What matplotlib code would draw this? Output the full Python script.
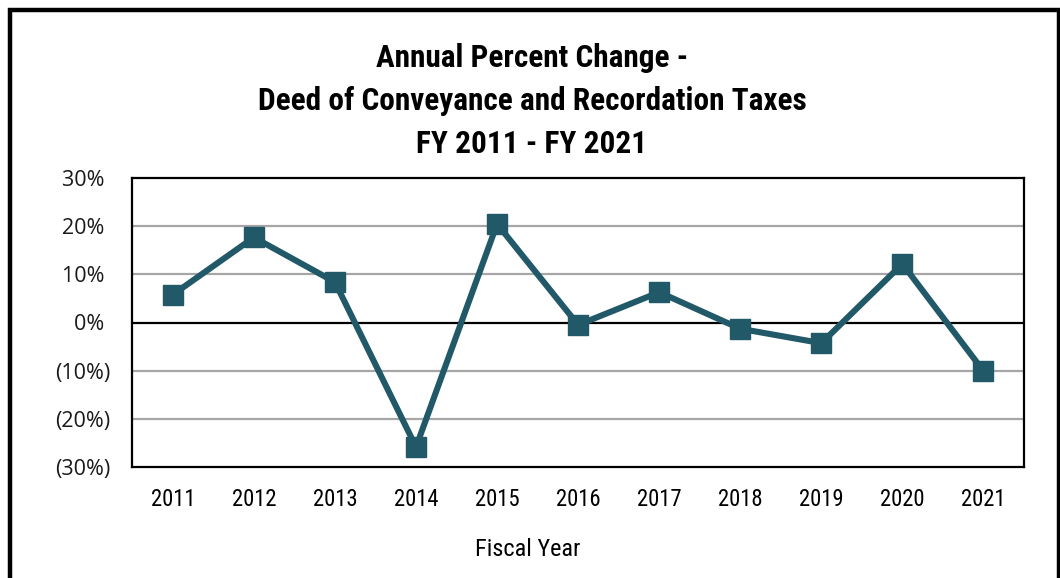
import matplotlib
matplotlib.use('Agg')
import matplotlib.pyplot as plt
from matplotlib import font_manager
from matplotlib.patches import Rectangle

# ─── DATA ─────────────────────────────────────────────────────────────────────
years = ['2011', '2012', '2013', '2014', '2015', '2016',
         '2017', '2018', '2019', '2020', '2021']
pct_change = [5.8, 17.7, 8.4, -25.9, 20.5, -0.5, 6.3, -1.3, -4.3, 12.2, -10.1]
y_ticks = [-30, -20, -10, 0, 10, 20, 30]
title_lines = ['Annual Percent Change -',
               'Deed of Conveyance and Recordation Taxes',
               'FY 2011 - FY 2021']

LINE_COLOR = '#215968'
TICK_FONT = ['Open Sans', 'DejaVu Sans']

# ─── PICK A NARROW FONT (original uses a condensed face) ──────────────────────
names = {f.name for f in font_manager.fontManager.ttflist}
narrow_name = None
for cand in ['Liberation Sans Narrow', 'DejaVu Sans Condensed', 'Roboto Condensed']:
    if cand in names:
        narrow_name = cand
        break
if narrow_name is None:
    for f in font_manager.fontManager.ttflist:
        if 'Narrow' in f.name or 'Condensed' in f.name:
            narrow_name = f.name
            break
if narrow_name is None:
    narrow_name = 'Roboto' if 'Roboto' in names else 'Liberation Sans'
NARROW = [narrow_name, 'DejaVu Sans']

W, H = 1060, 578
fig = plt.figure(figsize=(W / 100, H / 100), dpi=100)

# Axes placed in pixel terms
left, right, top, bottom = 132.3, 1024, 178.3, 466.7
ax = fig.add_axes([left / W, 1 - bottom / H, (right - left) / W, (bottom - top) / H])

x = list(range(len(years)))
ax.plot(x, pct_change, color=LINE_COLOR, linewidth=4.4, marker='s',
        markersize=15, zorder=5)

ax.set_xlim(-0.5, len(years) - 0.5)
ax.set_ylim(-30, 30)

# Gridlines: grey, zero line black
for t in y_ticks:
    if t in (-30, 30):
        continue
    ax.axhline(t, color='black' if t == 0 else '#a6a6a6', linewidth=1.6, zorder=1)

for s in ax.spines.values():
    s.set_color('black')
    s.set_linewidth(1.6)

ax.set_xticks(x)
ax.set_xticklabels(years, family=NARROW, fontsize=17.5)
ax.set_yticks(y_ticks)
ylabels = [f'({abs(t)}%)' if t < 0 else f'{t}% ' for t in y_ticks]
ax.set_yticklabels(ylabels, family=TICK_FONT, fontsize=15.5, color='#1a1a1a')
ax.tick_params(axis='both', length=0)
ax.tick_params(axis='y', pad=16)
ax.tick_params(axis='x', pad=15)

# Titles
baselines = [67.3, 110.3, 153.3]
title_texts = []
for line, yb in zip(title_lines, baselines):
    title_texts.append(fig.text(532 / W, 1 - yb / H, line, ha='center', va='baseline',
                                family=NARROW, fontweight='bold', fontsize=23))

xlab = fig.text(528 / W, 1 - 550 / H, 'Fiscal Year', ha='center', va='center',
                family=NARROW, fontsize=17)

# ─── FIT TEXT WIDTHS TO THE REFERENCE (fonts differ from the original) ────────
fig.canvas.draw()
renderer = fig.canvas.get_renderer()

w = title_texts[1].get_window_extent(renderer).width
size = min(23 * 550 / w, 25)
for t in title_texts:
    t.set_fontsize(size)

w = xlab.get_window_extent(renderer).width
xlab.set_fontsize(min(17 * 110 / w, 17.5))

w = ax.get_xticklabels()[0].get_window_extent(renderer).width
tick_size = min(17.5 * 45 / w, 18)
for lbl in ax.get_xticklabels():
    lbl.set_fontsize(tick_size)

# Outer frame (bottom edge runs off the image)
fig.patches.append(Rectangle((10.3 / W, -0.1), (1058.5 - 10.3) / W, 1.1 - 10.5 / H,
                             transform=fig.transFigure, fill=False,
                             edgecolor='black', linewidth=3.2))

fig.savefig('out.png', dpi=100)
